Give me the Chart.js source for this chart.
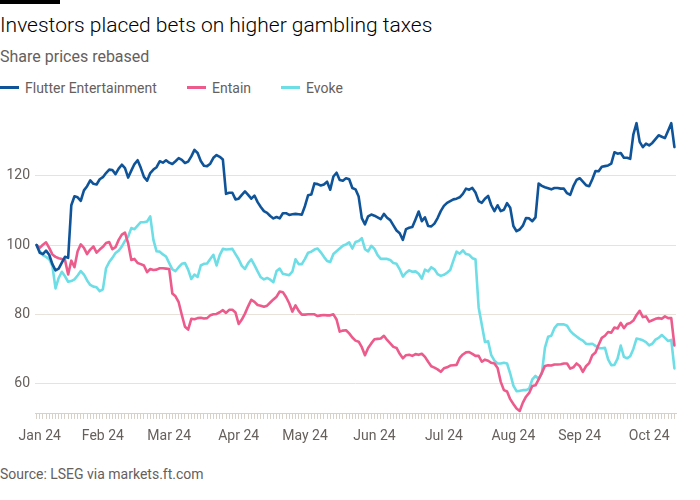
<!DOCTYPE html>
<html>
<head>
<meta charset="utf-8">
<script src="https://cdn.jsdelivr.net/npm/chart.js@4.4.1/dist/chart.umd.min.js"></script>
<style>
  html, body { margin: 0; padding: 0; background: #fff; width: 700px; height: 500px; overflow: hidden; }
  body { font-family: Roboto, "Noto Sans", sans-serif; position: relative; }
  #topbar { position: absolute; left: 0; top: 0; width: 60px; height: 4px; background: #000; }
  #title { position: absolute; left: 0; top: 15px; font-size: 21px; line-height: 21px; color: #000; white-space: nowrap; font-weight: 300; }
  #subtitle { position: absolute; left: 0; top: 49px; font-size: 16px; line-height: 16px; color: #66605c; white-space: nowrap; }
  .leg { position: absolute; top: 81px; font-size: 14px; line-height: 14px; color: #66605c; white-space: nowrap; }
  .sw { position: absolute; top: 86px; width: 19px; height: 3px; }
  #source { position: absolute; left: 0; top: 467px; font-size: 14px; line-height: 14px; color: #66605c; white-space: nowrap; }
  #wrap { position: absolute; left: 0; top: 100px; width: 700px; height: 360px; }
</style>
</head>
<body>
<div id="topbar"></div>
<div id="title">Investors placed bets on higher gambling taxes</div>
<div id="subtitle">Share prices rebased</div>
<div id="legend"></div>
<div id="wrap"><canvas id="c" width="700" height="360"></canvas></div>
<div id="source">Source: LSEG via markets.ft.com</div>
<script>
// ---- Data (rebased share prices, one value per trading day) ----
const seriesNames = ['Flutter Entertainment', 'Entain', 'Evoke'];
const seriesColors = ['#0f5499', '#ec5b8c', '#6ddde6'];

const flutter = [
  100,97.8,97.4,98.4,97.2,94.5,92.7,93.2,94.9,96.6,
  96.3,111.5,114.1,113.8,112.8,115.8,117,118.7,117.7,117.5,
  119,119.6,120.8,121.8,121.7,120.5,122.1,123.2,122.2,119.5,
  121.5,123.4,124.5,122.3,119.7,118.6,120.8,121.8,122.5,124.2,
  123.8,124.5,123.8,123.4,124.2,125.1,124.6,123.7,124.1,125.6,
  127.5,126.6,124.3,122.9,122.8,123.5,125.2,126,125.5,124.7,
  114.8,115.1,115.1,113.2,113.4,114.5,115.5,114.5,113.4,114.3,
  112.4,111,109.8,109.3,108.4,107.7,108.1,107.7,109.2,109.2,
  108.7,108.9,109,108.9,108.8,111.3,114.4,114.6,117.8,117.6,
  117.2,117.5,118.3,116,119.8,120.9,118.8,118.6,119.3,119,
  116.5,116.1,114,107.8,106,108.3,108.8,108.5,108,107.5,
  109,107.9,107.2,105.7,104.2,103.4,101.5,104.6,105,105.2,
  107.4,109.7,106.9,108,105.5,105.4,106.2,107.8,109.8,111.3,
  112.2,112.7,113.2,113.4,113.8,114.8,116.3,116,116.5,115.2,
  112.7,112.2,113.4,114.2,111.5,109.8,111.5,109.8,110.2,112.1,
  110.8,105.5,104,104.5,105.6,107.8,107.7,106.9,108,117.8,
  117.1,116.7,116.4,116.1,116.5,116.5,116.3,116.3,115,114.5,
  117,118.8,119.3,118.3,117.3,117,119,121.4,121.3,122.6,
  122.8,123,123.5,126.8,126.4,126.6,125.2,125.2,124.9,132,
  135.2,129.8,128.3,129.3,128.8,129.5,130.6,131.7,131.3,130.9,
  133,135.2,128.3
];

const entain = [
  100,99.2,100.1,100.8,99.2,97.3,96.6,96.2,96,95.7,
  91.5,95.5,93.6,98.2,100.2,99.2,97.4,98.7,99.6,97.8,
  98.7,99.5,100.6,100.9,98.8,99.4,101.5,103,103.6,100.5,
  95.7,96,94.8,94.5,94.1,92.2,93.1,92.8,92.9,93.3,
  93.3,93.2,93.1,86,85.2,83.5,79.8,76.4,75.6,78.7,
  78.6,78.9,79,78.8,78.9,79.7,80,80.1,80.6,81.2,
  80.4,81.3,81.3,80.5,77.2,78.5,80.2,82.3,84.2,83.6,
  82.7,82.5,82.2,82.5,83.4,84.3,85.1,86.6,86.4,85,
  83.2,80.8,82.6,81,79.9,79.9,80,80,80,79.5,
  79.7,79.8,79.7,79.7,80,78.5,75,75.3,75.4,74.5,
  73.3,72.4,72.1,70.5,68.2,70.3,71.6,72.8,72.9,73,
  73.8,72.6,71.6,70.6,70.3,68.6,67.3,68.2,68.3,68,
  68.5,68.3,68.6,67.7,66.3,65,64.6,64.1,63.4,64.4,
  64.7,65.2,65.3,65.4,67.4,68.4,69,69.1,68.6,68,
  68,66.3,66.9,66.6,66,65.8,64.5,60.5,58.1,57.7,
  55.5,54.1,52.8,52.1,54.5,56.2,57.3,59.3,59.5,61.2,
  63.1,65.1,65.3,65.2,65.5,65.5,65.6,65.8,65.8,64.3,
  64.7,65.8,65.1,63.4,65,65.9,68.2,69,71.2,73.2,
  73.8,74.9,74.7,76.2,75.9,77.5,76,77.2,77.5,78.2,
  79.8,81,79.2,79.4,77.9,78.3,78.7,78.9,78.7,79.4,
  78.9,78.9,71
];

const evoke = [
  100,98.3,97.1,96.6,95.9,94,87.5,90.5,92.3,91,
  89.4,89.6,90.1,91.2,92.5,91.5,89.8,88.5,88,87.8,
  86.7,87.2,93.3,95.1,96.3,97.7,98.4,99.6,101.2,102.5,
  104.9,104.6,105.6,106.6,106.6,106.8,108.3,101.5,98.2,98.1,
  97.3,96.7,94.8,93,92.5,93.6,94.6,94.8,92.9,90.2,
  91.5,90.8,94.1,94.6,94.7,96,97.2,94.1,97.1,98.9,
  98.7,98.8,98.9,97.4,95.9,94,93.1,94.8,95.9,94.2,
  92.4,90.7,90.1,90.5,90,89.3,92.5,93.2,91.7,91.5,
  91.3,92.3,95.9,94.5,94.5,96,97.8,98.1,98.7,99,
  97.9,96.6,95.4,95.1,97.4,98.2,99,99.8,100.2,100.8,
  99,100.9,101.2,102,98.8,98.2,99.8,98.9,97.1,96,
  96,96,95.7,94.8,94.6,93,90.9,92,92.7,92.3,
  92.4,91.7,90.3,92.9,92.4,93.6,93,91.6,91.1,91.4,
  92,92.8,95.5,98.1,97.5,98.5,97.4,97.2,96.2,95.9,
  82,77,72,72.2,68.2,66.6,65.8,65.8,66,65.8,
  62.9,59.4,57.8,57.9,58.1,58.1,58.5,61.2,62.2,61.4,
  62.8,70.4,73.5,73.8,76,77.1,77.1,77.1,76.7,75.2,
  74.3,73.6,72.9,72.4,71.5,71.4,71.5,70.9,70.2,70.2,
  70.3,67,65.3,65.4,67.2,71,67.7,67.3,67.9,70,
  73,72.8,72.5,72,71,71.5,72.7,73.2,74,73.2,
  72.3,72.6,64.4
];

// Month tick labels and the trading-day index where each month starts
const monthLabels = ['Jan 24','Feb 24','Mar 24','Apr 24','May 24','Jun 24','Jul 24','Aug 24','Sep 24','Oct 24'];
const monthStart  = [1, 21, 42, 64, 85, 107, 129, 151, 172, 194];

const yTicks = [60, 80, 100, 120];
const yMin = 51.5, yMax = 136.7;

// ---- Build category labels (month of each trading day) ----
const days = flutter.map((_, i) => {
  let m = '';
  for (let k = 0; k < monthStart.length; k++) if (i >= monthStart[k]) m = monthLabels[k];
  return m;
});

// ---- Legend (HTML) ----
const legendPos = [0, 187, 281];
const legend = document.getElementById('legend');
seriesNames.forEach((n, k) => {
  const sw = document.createElement('div');
  sw.className = 'sw'; sw.style.left = legendPos[k] + 'px'; sw.style.background = seriesColors[k];
  const tx = document.createElement('div');
  tx.className = 'leg'; tx.style.left = (legendPos[k] + 25) + 'px'; tx.textContent = n;
  legend.appendChild(sw); legend.appendChild(tx);
});

const FONT = 'Roboto, "Noto Sans", sans-serif';
const dataSets = [flutter, entain, evoke];

new Chart(document.getElementById('c'), {
  type: 'line',
  data: {
    labels: days,
    datasets: dataSets.map((d, k) => ({
      label: seriesNames[k],
      data: d,
      borderColor: seriesColors[k],
      backgroundColor: seriesColors[k],
      borderWidth: 2.6,
      pointRadius: 0,
      tension: 0,
      fill: false,
      borderJoinStyle: 'round',
      borderCapStyle: 'round'
    }))
  },
  options: {
    responsive: false,
    animation: false,
    maintainAspectRatio: false,
    layout: { padding: { top: 18, right: 24, bottom: 0, left: 0 } },
    plugins: { legend: { display: false }, tooltip: { enabled: false } },
    scales: {
      x: {
        type: 'category',
        offset: true,
        grid: { display: true, drawOnChartArea: false, drawTicks: true, tickLength: 6, color: '#d8d1ca', offset: false, lineWidth: 1 },
        border: { display: true, color: '#d8d1ca' },
        ticks: {
          autoSkip: false, maxRotation: 0, minRotation: 0, padding: 9,
          color: '#66605c', font: { family: FONT, size: 14 },
          callback: function (v, i) {
            const k = monthStart.indexOf(i);
            return k >= 0 ? monthLabels[k] : '';
          }
        },
        afterFit: function (s) { s.height = 47; }
      },
      y: {
        min: yMin, max: yMax,
        grid: { color: '#e9e2db', drawTicks: false, lineWidth: 1 },
        border: { display: false },
        ticks: { padding: 5, color: '#66605c', font: { family: FONT, size: 14 } },
        afterBuildTicks: function (s) { s.ticks = yTicks.map(v => ({ value: v })); },
        afterFit: function (s) { s.width = 35; }
      }
    }
  }
});
</script>
</body>
</html>
